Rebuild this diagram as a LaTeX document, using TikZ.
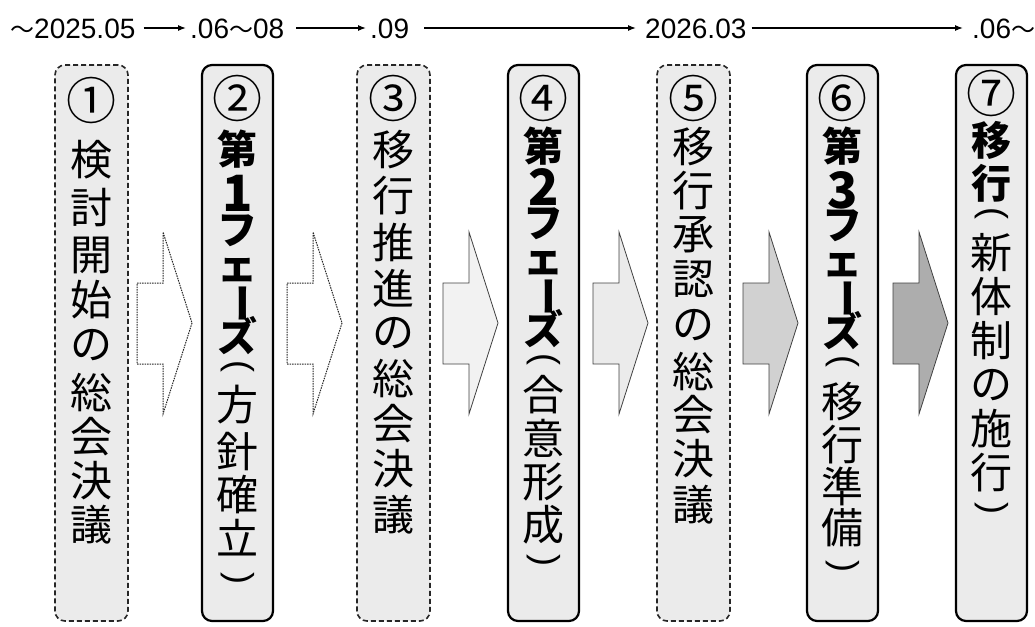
\documentclass[tikz,border=0pt]{standalone}
\usepackage{fontspec}
\setmainfont{Liberation Sans}
\newfontfamily\cjk{Noto Sans CJK JP}[BoldFont={Noto Sans CJK JP Black}]
\usetikzlibrary{arrows.meta,calc}
\newcommand{\wdash}{{\cjk\fontsize{24}{24}\selectfont 〜}}
\newcommand{\vbar}{\rotatebox{-90}{ー}}
\newcommand{\vpo}{(}
\newcommand{\vpc}{)}
\begin{document}
\begin{tikzpicture}[x=1pt,y=-1pt,
  tt/.style={font=\fontsize{28}{30}\selectfont, inner sep=0pt, anchor=base west},
  tl/.style={line width=1.3pt, -{Latex[length=8pt,width=6pt]}},
  boxd/.style={draw=black!85, line width=1.6pt, dash pattern=on 5pt off 3pt, fill=black!8, rounded corners=10pt, minimum width=73pt, minimum height=556pt, inner sep=0pt},
  boxs/.style={draw=black, line width=2.2pt, fill=black!8, rounded corners=10pt, minimum width=71pt, minimum height=556pt, inner sep=0pt},
  chr/.style={font=\cjk\fontsize{42}{44}\selectfont, inner sep=0pt},
  chp/.style={font=\rmfamily\fontsize{36}{36}\selectfont, rotate=-90, inner sep=0pt},
  chb/.style={font=\cjk\bfseries\fontsize{40}{42}\selectfont, inner sep=0pt},
  chd/.style={font=\cjk\bfseries\fontsize{50}{52}\selectfont, inner sep=0pt},
  num/.style={font=\cjk\fontsize{50}{52}\selectfont, inner sep=0pt},
  arrd/.style={draw=black!85, line width=1pt, dash pattern=on 1.5pt off 1pt, fill=white},
  arrs/.style={draw=black!75, line width=0.8pt},
]
\useasboundingbox (0,0) rectangle (1035,626);

% timeline
\node[tt] (t1) at (10,38) {\wdash2025.05};
\node[tt] (t2) at (190,38) {.06\wdash08};
\node[tt] (t3) at (370,38) {.09};
\node[tt] (t4) at (645,38) {2026.03};
\node[tt] (t5) at (972,38) {.06\wdash};
\draw[tl] ($(t1.base east)+(8,-10)$) -- ($(t2.base west)+(-4,-10)$);
\draw[tl] ($(t2.base east)+(12,-10)$) -- ($(t3.base west)+(-4,-10)$);
\draw[tl] ($(t3.base east)+(15,-10)$) -- ($(t4.base west)+(-9,-10)$);
\draw[tl] ($(t4.base east)+(5,-10)$) -- ($(t5.base west)+(-9,-10)$);

% boxes
\node[boxd] (box1) at (91.5,343) {};
\node[boxs] (box2) at (237.5,343) {};
\node[boxd] (box3) at (393.5,343) {};
\node[boxs] (box4) at (543.5,343) {};
\node[boxd] (box5) at (693.5,343) {};
\node[boxs] (box6) at (842.5,343) {};
\node[boxs] (box7) at (991.5,343) {};

% block arrows
\foreach \x/\s/\f in {137/arrd/white, 287/arrd/white, 443/arrs/black!5, 593/arrs/black!8, 743/arrs/black!18, 893/arrs/black!32}
  \draw[\s, fill=\f] (\x,283) -- (\x+26,283) -- (\x+26,232) -- (\x+55,323) -- (\x+26,414) -- (\x+26,364) -- (\x,364) -- cycle;

% box texts
\foreach \c/\y/\s [count=\k] in {①/100/num, 検/160/chr, 討/208/chr, 開/255/chr, 始/300/chr, の/345/chr, 総/392/chr, 会/437/chr, 決/481/chr, 議/525/chr}
  \node[\s] (a\k) at (91.5,\y) {\c};
\foreach \c/\y/\s [count=\k] in {②/98/num, 第/149/chb, 1/193/chd, フ/231/chb, ェ/270/chb, \vbar/303/chb, ズ/336/chb, \vpo/366/chp, 方/405/chr, 針/452/chr, 確/495/chr, 立/538/chr, \vpc/578/chp}
  \node[\s] (b\k) at (237.5,\y) {\c};
\foreach \c/\y/\s [count=\k] in {③/98/num, 移/150/chr, 行/196/chr, 推/242/chr, 進/288/chr, の/333/chr, 総/378/chr, 会/424/chr, 決/469/chr, 議/515/chr}
  \node[\s] (c\k) at (393.5,\y) {\c};
\foreach \c/\y/\s [count=\k] in {④/98/num, 第/146/chb, 2/187/chd, フ/224/chb, ェ/263/chb, \vbar/296/chb, ズ/329/chb, \vpo/359/chp, 合/395/chr, 意/438/chr, 形/482/chr, 成/525/chr, \vpc/560/chp}
  \node[\s] (d\k) at (543.5,\y) {\c};
\foreach \c/\y/\s [count=\k] in {⑤/98/num, 移/147/chr, 行/191/chr, 承/235/chr, 認/279/chr, の/325/chr, 総/371/chr, 会/415/chr, 決/459/chr, 議/505/chr}
  \node[\s] (e\k) at (693.5,\y) {\c};
\foreach \c/\y/\s [count=\k] in {⑥/98/num, 第/146/chb, 3/190/chd, フ/226/chb, ェ/265/chb, \vbar/298/chb, ズ/331/chb, \vpo/361/chp, 移/402/chr, 行/445/chr, 準/486/chr, 備/528/chr, \vpc/566/chp}
  \node[\s] (f\k) at (842.5,\y) {\c};
\foreach \c/\y/\s [count=\k] in {⑦/93/num, 移/140/chb, 行/183/chb, \vpo/213/chp, 新/253/chr, 体/297/chr, 制/341/chr, の/385/chr, 施/429/chr, 行/473/chr, \vpc/508/chp}
  \node[\s] (g\k) at (991.5,\y) {\c};
\end{tikzpicture}
\end{document}
